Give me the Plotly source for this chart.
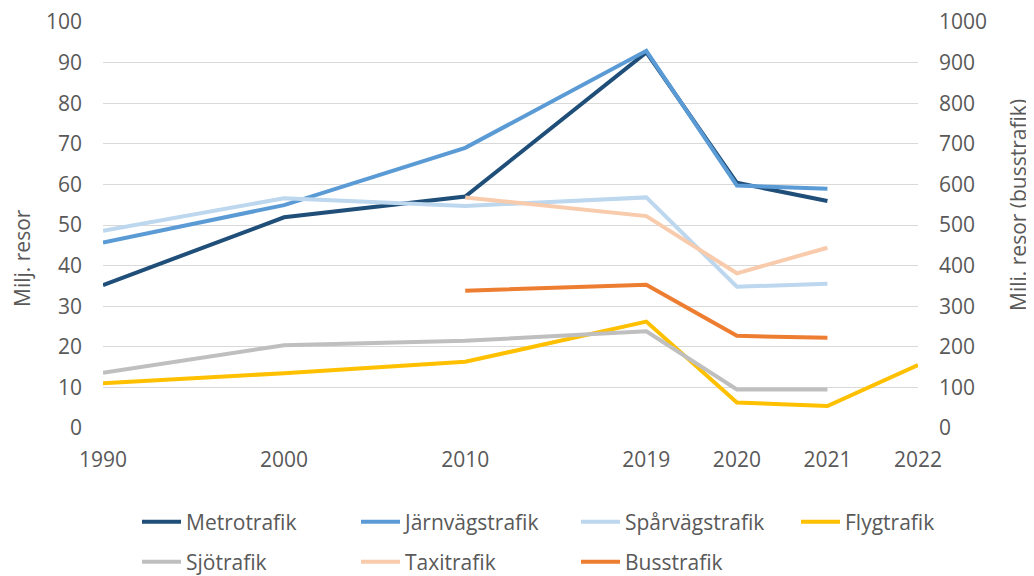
import plotly.graph_objects as go

# Category positions (non-uniform spacing like the reference)
year_labels = ["1990", "2000", "2010", "2019", "2020", "2021", "2022"]
year_pos = [0, 2, 4, 6, 7, 8, 9]

metro = [35.2, 51.9, 57.0, 92.5, 60.4, 55.9, None]
jarnvag = [45.7, 54.9, 69.0, 92.9, 59.7, 58.9, None]
sparvag = [48.6, 56.6, 54.7, 56.8, 34.8, 35.5, None]
flyg = [11.0, 13.5, 16.3, 26.2, 6.3, 5.4, 15.5]
sjo = [13.6, 20.4, 21.5, 23.8, 9.5, 9.5, None]
taxi = [None, None, 56.8, 52.2, 38.1, 44.4, None]
buss = [None, None, 338, 353, 227, 222, None]

left_ticks = list(range(0, 101, 10))
right_ticks = list(range(0, 1001, 100))

FONT = "'Open Sans', Lato, sans-serif"
TXT = "#595959"
FS = 21
LW = 4

# The page body adds an 8px offset; work in page pixels and convert.
OFF = 8
W, H = 1034 - OFF, 576 - OFF
PLOT_L, PLOT_R, PLOT_T, PLOT_B = 103, 918, 22, 428  # page pixels
L = PLOT_L - OFF
T = PLOT_T - OFF
R = W - (PLOT_R - OFF)
B = H - (PLOT_B - OFF)
PW, PH = W - L - R, H - T - B


def px_x(x):
    return (x - OFF - L) / PW


def px_y(y):
    return (H - B - (y - OFF)) / PH


series = [
    ("Metrotrafik", metro, "#1f4e79", "y"),
    ("Järnvägstrafik", jarnvag, "#5b9bd5", "y"),
    ("Spårvägstrafik", sparvag, "#bdd7ee", "y"),
    ("Flygtrafik", flyg, "#ffc000", "y"),
    ("Sjötrafik", sjo, "#bfbfbf", "y"),
    ("Taxitrafik", taxi, "#f8cbad", "y"),
    ("Busstrafik", buss, "#ed7d31", "y2"),
]

# legend slot (page pixels: symbol start x, row centre y)
col_x = [143, 362, 582, 802]
row_y = [522, 562]

fig = go.Figure()
legends = {}
for i, (name, vals, color, ax) in enumerate(series):
    lg = "legend" if i == 0 else f"legend{i + 1}"
    fig.add_trace(go.Scatter(
        x=year_pos, y=vals, name=name, mode="lines", yaxis=ax, legend=lg,
        line=dict(color=color, width=LW),
        connectgaps=False, hoverinfo="x+y+name",
    ))
    cx = col_x[i % 4]
    ry = row_y[i // 4]
    legends[lg] = dict(
        orientation="h", xanchor="left", yanchor="middle",
        x=px_x(cx - 6), y=px_y(ry),
        font=dict(family=FONT, color=TXT, size=FS),
        bgcolor="rgba(0,0,0,0)", itemwidth=39,
    )

fig.update_layout(
    width=W, height=H,
    margin=dict(l=L, r=R, t=T, b=B, autoexpand=False),
    paper_bgcolor="white", plot_bgcolor="white",
    font=dict(family=FONT, color=TXT, size=FS),
    showlegend=True,
    xaxis=dict(
        range=[0, 9], tickvals=year_pos, ticktext=year_labels,
        showgrid=False, zeroline=False, showline=False, ticks="",
        ticklabelstandoff=17, ticklabeloverflow="allow",
        tickfont=dict(size=FS, color=TXT),
    ),
    yaxis=dict(
        range=[0, 100], tickvals=left_ticks,
        showgrid=True, gridcolor="#d9d9d9", gridwidth=1,
        zeroline=False, showline=False, ticks="",
        ticklabelstandoff=20, ticklabeloverflow="allow",
        tickfont=dict(size=FS, color=TXT),
    ),
    yaxis2=dict(
        range=[0, 1000], tickvals=right_ticks, overlaying="y", side="right",
        showgrid=False, zeroline=False, showline=False, ticks="",
        ticklabelstandoff=20, ticklabeloverflow="allow",
        tickfont=dict(size=FS, color=TXT),
    ),
    annotations=[
        dict(text="Milj. resor", x=px_x(22), y=px_y(258), xref="paper", yref="paper",
             xanchor="center", yanchor="middle",
             showarrow=False, textangle=-90, font=dict(size=FS, color=TXT)),
        dict(text="Milj. resor (busstrafik)", x=px_x(1018), y=px_y(205),
             xref="paper", yref="paper", xanchor="center", yanchor="middle",
             showarrow=False, textangle=-90, font=dict(size=FS, color=TXT)),
    ],
    **legends,
)

fig.write_html("out.html")
